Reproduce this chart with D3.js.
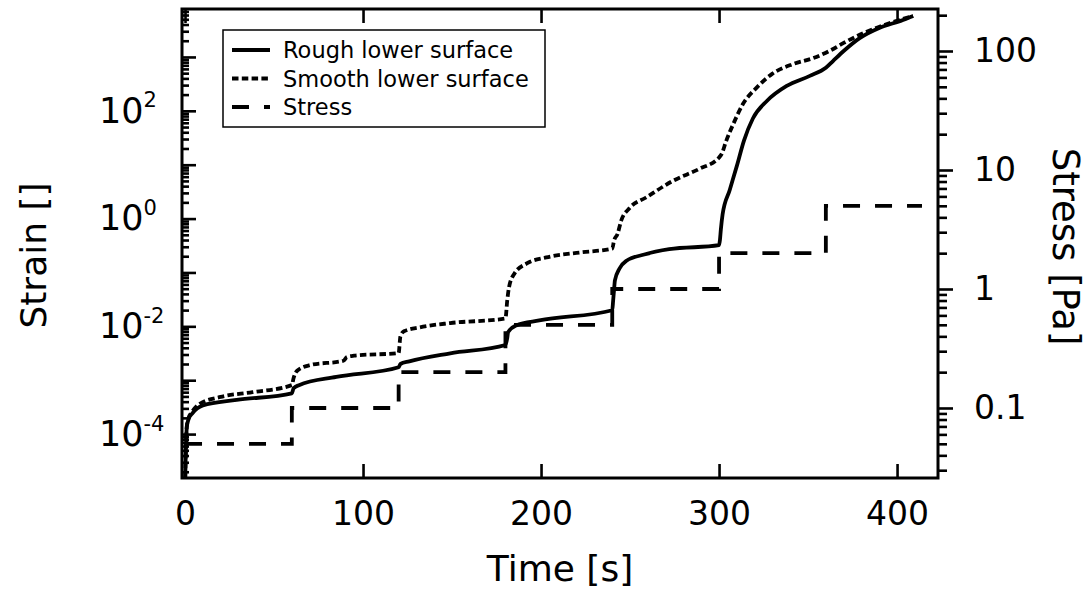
<!DOCTYPE html>
<html>
<head>
<meta charset="utf-8">
<script src="https://cdn.jsdelivr.net/npm/d3@7/dist/d3.min.js"></script>
<style>
	body { margin: 0; background: #fff; }
	text { font-family: "DejaVu Sans", sans-serif; fill: #000; }
</style>
</head>
<body>
<svg id="chart" width="1090" height="592"></svg>
<script>
// time [s] / strain []
const roughTime = [0, 0.3, 1, 2, 4, 10, 29, 60, 61, 64, 85, 120, 121, 126, 149, 180, 181, 181.5, 186, 199, 240,
	240.5, 241, 241.5, 244, 248, 258, 272, 300, 300.5, 301, 302, 306, 310, 314, 319, 327, 338, 351, 360, 364, 370,
	379, 390, 402, 409];
const roughStrain = [1e-5, 2.9e-5, 1.35e-4, 1.9e-4, 2.4e-4, 3.4e-4, 4.3e-4, 5.7e-4, 7.1e-4, 8.1e-4, 1.15e-3, 1.74e-3,
	2.0e-3, 2.24e-3, 3.16e-3, 4.5e-3, 6.0e-3, 7.8e-3, 1.04e-2, 1.29e-2, 1.99e-2,
	0.030, 0.047, 0.071, 0.117, 0.165, 0.215, 0.27, 0.32, 0.40, 0.62, 1.2, 3.4, 9.5, 28, 72, 154, 290, 445, 630, 840, 1290,
	2240, 3460, 4670, 5750];

const smoothTime = [0, 0.3, 1, 2, 4, 8, 20, 38, 60, 61, 63, 70, 89, 91, 95, 120, 121, 123, 132, 149, 180, 181, 182, 185,
	192, 203, 222, 240, 241, 243, 245, 249.5, 259, 274, 289, 300, 301.5, 304, 308, 313.5, 321, 330, 342, 353, 362, 370,
	381, 394, 409];
const smoothStrain = [1e-5, 3.0e-5, 1.4e-4, 2.0e-4, 2.6e-4, 3.6e-4, 4.9e-4, 6.0e-4, 8.1e-4, 1.1e-3, 1.5e-3, 1.9e-3,
	2.3e-3, 2.7e-3, 2.85e-3, 3.2e-3, 6.5e-3, 8.1e-3, 9.6e-3, 1.15e-2, 1.4e-2, 3.0e-2, 5.3e-2, 9.5e-2,
	0.147, 0.19, 0.235, 0.277, 0.39, 0.52, 0.91, 1.54, 2.46, 5.0, 8.4, 13.6, 15.9, 27.5, 57, 135, 267, 490, 745, 955, 1290, 1820,
	2760, 4050, 5750];

// applied stress [Pa]
const stressTime = [0, 60, 120, 180, 240, 300, 360, 414];
const stressValue = [0.05, 0.1, 0.2, 0.5, 1, 2, 5, 5];

const timeTicks = [0, 100, 200, 300, 400];
const strainLabelExps = [-4, -2, 0, 2];
const stressLabelTicks = [0.1, 1, 10, 100];
const seriesNames = ["Rough lower surface", "Smooth lower surface", "Stress"];

const margin = {top: 9, right: 152, bottom: 114, left: 182};
const width = 1090, height = 592;
const lineW = 3.8;
const dashes = [null, "6.5,3.3", "17,15"];
const tickFont = "\"DejaVu Sans Condensed\", \"DejaVu Sans\", sans-serif";

const svg = d3.select("#chart");

const x = d3.scaleLinear().domain([-1.7, 423]).range([margin.left, width - margin.right]);
const yL = d3.scaleLog().domain([1.531e-5, 7762]).range([height - margin.bottom, margin.top]);
const yR = d3.scaleLog().domain([0.0258, 225.4]).range([height - margin.bottom, margin.top]);

const isDecade = d => Math.abs(Math.log10(d) - Math.round(Math.log10(d))) < 1e-6;

svg.append("clipPath").attr("id", "plot-clip")
	.append("rect")
	.attr("x", margin.left).attr("y", margin.top)
	.attr("width", width - margin.left - margin.right)
	.attr("height", height - margin.top - margin.bottom);

const plot = svg.append("g").attr("clip-path", "url(#plot-clip)");

const strainLine = d3.line()
	.x(d => x(d[0]))
	.y(d => yL(d[1]))
	.curve(d3.curveMonotoneX);

const stressLine = d3.line()
	.x(d => x(d[0]))
	.y(d => yR(d[1]))
	.curve(d3.curveStepAfter);

plot.append("path")
	.datum(stressTime.map((t, i) => [t, stressValue[i]]))
	.attr("d", stressLine)
	.attr("fill", "none").attr("stroke", "#000")
	.attr("stroke-width", lineW).attr("stroke-dasharray", dashes[2]);

plot.append("path")
	.datum(smoothTime.map((t, i) => [t, smoothStrain[i]]))
	.attr("d", strainLine)
	.attr("fill", "none").attr("stroke", "#000")
	.attr("stroke-width", lineW).attr("stroke-dasharray", dashes[1]);

plot.append("path")
	.datum(roughTime.map((t, i) => [t, roughStrain[i]]))
	.attr("d", strainLine)
	.attr("fill", "none").attr("stroke", "#000")
	.attr("stroke-width", lineW);

// axes
const tickStyle = g => {
	g.select(".domain").remove();
	g.selectAll(".tick line").attr("stroke", "#000").attr("stroke-width", 2.6);
	g.selectAll(".tick text").attr("font-size", "33px").attr("font-family", tickFont);
};

const leftTicks = yL.ticks();
const leftMajor = leftTicks.filter(isDecade);
const leftMinor = leftTicks.filter(d => !isDecade(d));

svg.append("g")
	.attr("transform", `translate(${margin.left},0)`)
	.call(d3.axisLeft(yL).tickValues(leftMinor).tickSize(-7).tickFormat(""))
	.call(tickStyle);

const leftMajorG = svg.append("g")
	.attr("transform", `translate(${margin.left},0)`)
	.call(d3.axisLeft(yL).tickValues(leftMajor).tickSize(-14).tickPadding(17).tickFormat(""))
	.call(tickStyle);

// "10" ends at a fixed place, the exponent hangs to its right
leftMajorG.selectAll(".tick text").each(function(d) {
	const e = Math.round(Math.log10(d));
	if (!strainLabelExps.includes(e)) return;
	const t = d3.select(this)
		.attr("text-anchor", "start")
		.attr("x", -83)
		.attr("font-size", "35px");
	t.append("tspan").text("10");
	t.append("tspan").attr("font-size", "21px").attr("dy", "-0.72em").text(String(e));
});

svg.append("g")
	.attr("transform", `translate(0,${height - margin.bottom})`)
	.call(d3.axisBottom(x).tickValues(timeTicks).tickSize(-14).tickPadding(24).tickFormat(d3.format("d")))
	.call(tickStyle);

svg.append("g")
	.attr("transform", `translate(0,${margin.top})`)
	.call(d3.axisTop(x).tickValues(timeTicks).tickSize(-14).tickFormat(""))
	.call(tickStyle);

const rightTicks = yR.ticks();
const rightMajor = rightTicks.filter(isDecade);
const rightMinor = rightTicks.filter(d => !isDecade(d));

svg.append("g")
	.attr("transform", `translate(${width - margin.right},0)`)
	.call(d3.axisRight(yR).tickValues(rightMinor).tickSize(9).tickFormat(""))
	.call(tickStyle);

svg.append("g")
	.attr("transform", `translate(${width - margin.right},0)`)
	.call(d3.axisRight(yR).tickValues(rightMajor).tickSize(15).tickPadding(21)
		.tickFormat(d => stressLabelTicks.some(v => Math.abs(v - d) < 1e-9) ? d3.format("~g")(d) : ""))
	.call(tickStyle);

// frame
svg.append("rect")
	.attr("x", margin.left).attr("y", margin.top)
	.attr("width", width - margin.left - margin.right)
	.attr("height", height - margin.top - margin.bottom)
	.attr("fill", "none").attr("stroke", "#000").attr("stroke-width", 3);

// axis titles
svg.append("text")
	.attr("x", (margin.left + width - margin.right) / 2).attr("y", 581)
	.attr("text-anchor", "middle").attr("font-size", "36px")
	.text("Time [s]");

svg.append("text")
	.attr("transform", `translate(46,${(margin.top + height - margin.bottom) / 2 + 12}) rotate(-90)`)
	.attr("text-anchor", "middle").attr("font-size", "36px")
	.text("Strain []");

svg.append("text")
	.attr("transform", `translate(1053,${(margin.top + height - margin.bottom) / 2 + 3}) rotate(90)`)
	.attr("text-anchor", "middle").attr("font-size", "37px")
	.text("Stress [Pa]");

// legend
const legend = svg.append("g").attr("transform", "translate(223,30)");
legend.append("rect")
	.attr("width", 322).attr("height", 97)
	.attr("fill", "#fff").attr("stroke", "#000").attr("stroke-width", 1.5);

const rows = legend.selectAll(".row")
	.data(seriesNames)
	.enter()
	.append("g")
	.attr("class", "row")
	.attr("transform", (d, i) => `translate(0,${20 + i * 28.5})`);

rows.append("line")
	.attr("x1", 9).attr("x2", 47)
	.attr("stroke", "#000").attr("stroke-width", lineW)
	.attr("stroke-dasharray", (d, i) => dashes[i]);

rows.append("text")
	.attr("x", 60).attr("dy", "0.36em")
	.attr("font-size", "22.5px")
	.text(d => d);
</script>
</body>
</html>
